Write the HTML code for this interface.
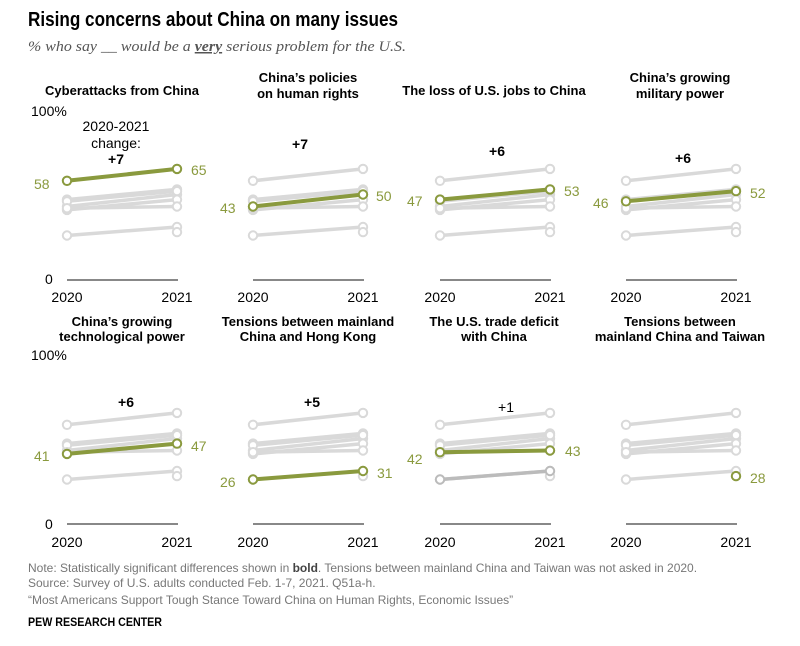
<!DOCTYPE html>
<html><head><meta charset="utf-8"><style>
body{margin:0;background:#fff;}
svg{display:block;font-family:"Liberation Sans",sans-serif;}
.t{font-weight:bold;font-size:13px;fill:#000;text-anchor:middle;}
.ax{font-size:14px;fill:#000;}
.g{fill:#8a9a3e;font-size:14px;}
.c{font-size:14px;fill:#000;text-anchor:middle;}
</style></head><body>
<svg width="800" height="646" viewBox="0 0 800 646">
<defs>
<g id="bg" stroke="#d9d9d9" stroke-width="3.5" fill="#fff">
<line x1="0" y1="-99.2" x2="110" y2="-111.1"/>
<line x1="0" y1="-73.5" x2="110" y2="-85.5"/>
<line x1="0" y1="-80.4" x2="110" y2="-90.6"/>
<line x1="0" y1="-78.7" x2="110" y2="-88.9"/>
<line x1="0" y1="-70.1" x2="110" y2="-80.4"/>
<line x1="0" y1="-44.5" x2="110" y2="-53"/>
<line x1="0" y1="-71.8" x2="110" y2="-73.5"/>
<g stroke-width="2">
<circle cx="0" cy="-99.2" r="4.2"/><circle cx="110" cy="-111.1" r="4.2"/>
<circle cx="0" cy="-73.5" r="4.2"/><circle cx="110" cy="-85.5" r="4.2"/>
<circle cx="0" cy="-80.4" r="4.2"/><circle cx="110" cy="-90.6" r="4.2"/>
<circle cx="0" cy="-78.7" r="4.2"/><circle cx="110" cy="-88.9" r="4.2"/>
<circle cx="0" cy="-70.1" r="4.2"/><circle cx="110" cy="-80.4" r="4.2"/>
<circle cx="0" cy="-44.5" r="4.2"/><circle cx="110" cy="-53" r="4.2"/>
<circle cx="0" cy="-71.8" r="4.2"/><circle cx="110" cy="-73.5" r="4.2"/>
<circle cx="110" cy="-47.9" r="4.2"/>
</g>
<line x1="0" y1="0" x2="111" y2="0" stroke="#888" stroke-width="2"/>
</g>
</defs>

<text x="28" y="26" font-size="20" font-weight="bold" fill="#000" textLength="370" lengthAdjust="spacingAndGlyphs">Rising concerns about China on many issues</text>
<text x="28" y="51" font-size="15" font-style="italic" fill="#555" font-family="Liberation Serif,serif" textLength="378" lengthAdjust="spacingAndGlyphs">% who say __ would be a <tspan font-weight="bold" text-decoration="underline">very</tspan> serious problem for the U.S.</text>

<!-- row 1 -->
<text class="t" x="122" y="95">Cyberattacks from China</text>
<text class="t" x="308" y="82">China’s policies</text><text class="t" x="308" y="98">on human rights</text>
<text class="t" x="494" y="95">The loss of U.S. jobs to China</text>
<text class="t" x="680" y="82">China’s growing</text><text class="t" x="680" y="98">military power</text>
<text class="ax" x="31" y="116">100%</text>
<text class="ax" x="45" y="284">0</text>

<use href="#bg" x="67" y="280"/>
<use href="#bg" x="253" y="280"/>
<use href="#bg" x="440" y="280"/>
<use href="#bg" x="626" y="280"/>

<g stroke="#8a9a3e" stroke-width="4" fill="#fff">
<line x1="67" y1="180.8" x2="177" y2="168.9"/>
<line x1="253" y1="206.5" x2="363" y2="194.5"/>
<line x1="440" y1="199.6" x2="550" y2="189.4"/>
<line x1="626" y1="201.3" x2="736" y2="191.1"/>
<g stroke-width="2">
<circle cx="67" cy="180.8" r="4.2"/><circle cx="177" cy="168.9" r="4.2"/>
<circle cx="253" cy="206.5" r="4.2"/><circle cx="363" cy="194.5" r="4.2"/>
<circle cx="440" cy="199.6" r="4.2"/><circle cx="550" cy="189.4" r="4.2"/>
<circle cx="626" cy="201.3" r="4.2"/><circle cx="736" cy="191.1" r="4.2"/>
</g></g>
<text class="g" x="34" y="189">58</text><text class="g" x="191" y="175">65</text>
<text class="g" x="220" y="213">43</text><text class="g" x="376" y="201">50</text>
<text class="g" x="407" y="206">47</text><text class="g" x="564" y="196">53</text>
<text class="g" x="593" y="208">46</text><text class="g" x="750" y="198">52</text>
<text class="c" x="116" y="131">2020-2021</text><text class="c" x="116" y="148">change:</text>
<text class="c" x="116" y="164" font-weight="bold">+7</text>
<text class="c" x="300" y="149" font-weight="bold">+7</text>
<text class="c" x="497" y="156" font-weight="bold">+6</text>
<text class="c" x="683" y="163" font-weight="bold">+6</text>
<g class="ax" text-anchor="middle">
<text x="67" y="302">2020</text><text x="177" y="302">2021</text>
<text x="253" y="302">2020</text><text x="363" y="302">2021</text>
<text x="440" y="302">2020</text><text x="550" y="302">2021</text>
<text x="626" y="302">2020</text><text x="736" y="302">2021</text>
</g>

<!-- row 2 -->
<text class="t" x="122" y="326">China’s growing</text><text class="t" x="122" y="341">technological power</text>
<text class="t" x="308" y="326">Tensions between mainland</text><text class="t" x="308" y="341">China and Hong Kong</text>
<text class="t" x="494" y="326">The U.S. trade deficit</text><text class="t" x="494" y="341">with China</text>
<text class="t" x="680" y="326">Tensions between</text><text class="t" x="680" y="341">mainland China and Taiwan</text>
<text class="ax" x="31" y="360">100%</text>
<text class="ax" x="45" y="529">0</text>

<use href="#bg" x="67" y="524"/>
<use href="#bg" x="253" y="524"/>
<use href="#bg" x="440" y="524"/>
<use href="#bg" x="626" y="524"/>

<g stroke="#bbb" stroke-width="3.5" fill="#fff">
<line x1="440" y1="479.5" x2="550" y2="471"/>
<circle cx="440" cy="479.5" r="4.2" stroke-width="2"/><circle cx="550" cy="471" r="4.2" stroke-width="2"/>
</g>
<g stroke="#8a9a3e" stroke-width="4" fill="#fff">
<line x1="67" y1="453.9" x2="177" y2="443.6"/>
<line x1="253" y1="479.5" x2="363" y2="471"/>
<line x1="440" y1="452.2" x2="550" y2="450.5"/>
<g stroke-width="2">
<circle cx="67" cy="453.9" r="4.2"/><circle cx="177" cy="443.6" r="4.2"/>
<circle cx="253" cy="479.5" r="4.2"/><circle cx="363" cy="471" r="4.2"/>
<circle cx="440" cy="452.2" r="4.2"/><circle cx="550" cy="450.5" r="4.2"/>
<circle cx="736" cy="476.1" r="4.2"/>
</g></g>
<text class="g" x="34" y="461">41</text><text class="g" x="191" y="451">47</text>
<text class="g" x="220" y="487">26</text><text class="g" x="377" y="478">31</text>
<text class="g" x="407" y="464">42</text><text class="g" x="565" y="456">43</text>
<text class="g" x="750" y="483">28</text>
<text class="c" x="126" y="407" font-weight="bold">+6</text>
<text class="c" x="312" y="407" font-weight="bold">+5</text>
<text class="c" x="506" y="412">+1</text>
<g class="ax" text-anchor="middle">
<text x="67" y="547">2020</text><text x="177" y="547">2021</text>
<text x="253" y="547">2020</text><text x="363" y="547">2021</text>
<text x="440" y="547">2020</text><text x="550" y="547">2021</text>
<text x="626" y="547">2020</text><text x="736" y="547">2021</text>
</g>

<g font-size="12" fill="#777">
<text x="28" y="572">Note: Statistically significant differences shown in <tspan font-weight="bold" fill="#444">bold</tspan>. Tensions between mainland China and Taiwan was not asked in 2020.</text>
<text x="28" y="587">Source: Survey of U.S. adults conducted Feb. 1-7, 2021. Q51a-h.</text>
<text x="28" y="604">“Most Americans Support Tough Stance Toward China on Human Rights, Economic Issues”</text>
</g>
<text x="28" y="626" font-size="12" font-weight="bold" fill="#000" textLength="134" lengthAdjust="spacingAndGlyphs">PEW RESEARCH CENTER</text>
</svg>
</body></html>
